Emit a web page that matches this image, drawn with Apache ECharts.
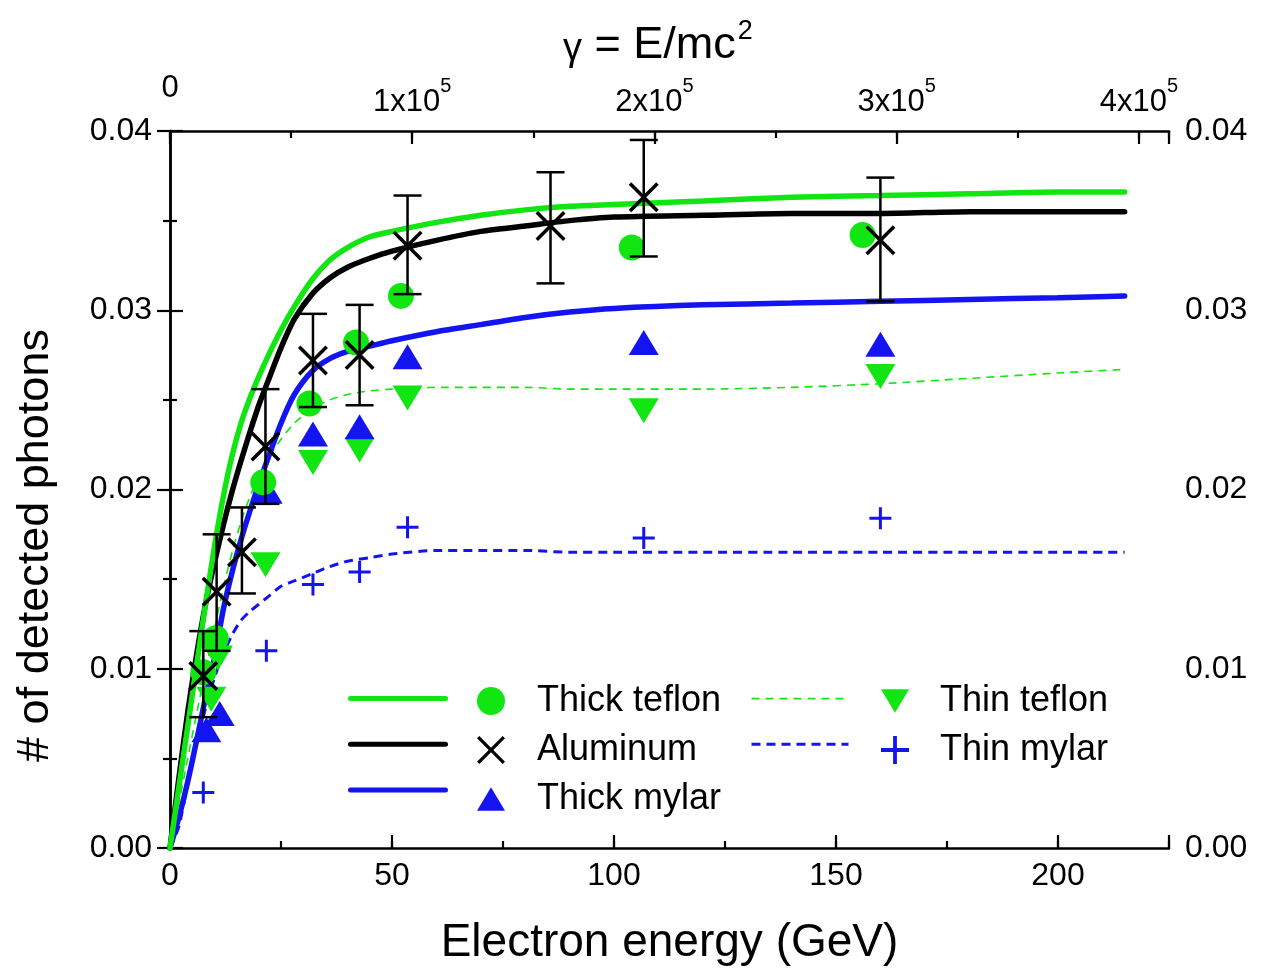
<!DOCTYPE html>
<html>
<head>
<meta charset="utf-8">
<script src="https://cdn.jsdelivr.net/npm/echarts@6/dist/echarts.min.js"></script>
<style>html,body{margin:0;padding:0;background:#fff}#chart{width:1262px;height:972px}</style>
</head>
<body>
<div id="chart"></div>
<script>
// ---------------- data ----------------
// Energies of the fitted curves (GeV)
const fitE = [0,2,4,6,8,10,12,14,16,18,20,22,25,28,32,36,40,45,50,60,70,80,90,100,120,140,160,180,200,215];
const fitThickTeflon = [0,0.0034,0.0068,0.0102,0.0136,0.0168,0.0196,0.0219,0.0237,0.0251,0.0263,0.0274,0.0289,0.0302,0.0317,0.0328,0.0335,0.0341,0.0344,0.0349,0.0353,0.0356,0.0358,0.0359,0.0361,0.0363,0.0364,0.0365,0.0366,0.0366];
const fitAluminum    = [0,0.0039,0.0076,0.0108,0.0136,0.0159,0.0180,0.0199,0.0216,0.0232,0.0247,0.0260,0.0279,0.0295,0.0309,0.0318,0.0324,0.0329,0.0333,0.0339,0.0344,0.0347,0.0350,0.0352,0.0353,0.0354,0.0354,0.0355,0.0355,0.0355];
const fitThickMylar  = [0,0.0017,0.0037,0.0060,0.0084,0.0106,0.0133,0.0154,0.0172,0.0188,0.0203,0.0217,0.0237,0.0253,0.0266,0.0273,0.0277,0.0280,0.0283,0.0288,0.0292,0.0296,0.0299,0.0301,0.0303,0.0304,0.0305,0.0306,0.0307,0.0308];
const fitThinTeflon  = [0,0.0025,0.0050,0.0075,0.0099,0.0122,0.0145,0.0165,0.0182,0.0196,0.0208,0.0217,0.0228,0.0237,0.0245,0.0250,0.0253,0.0255,0.0256,0.0257,0.0257,0.0257,0.0256,0.0256,0.0256,0.0257,0.0259,0.0262,0.0265,0.0267];
const fitThinMylar   = [0,0.0012,0.0036,0.0058,0.0078,0.0095,0.0108,0.0119,0.0127,0.0132,0.0136,0.0140,0.0146,0.0149,0.0153,0.0157,0.0160,0.0162,0.0164,0.0166,0.0166,0.0166,0.0165,0.0165,0.0165,0.0165,0.0165,0.0165,0.0165,0.0165];

// Measured points
const thickTeflonE = [7.5, 10.3, 21, 31.4, 41.9, 52, 104, 156];
const thickTeflonY = [0.0098, 0.0117, 0.0204, 0.0248, 0.0282, 0.0308, 0.0335, 0.0342];

const aluminumE  = [7.5, 10.5, 16.2, 21.5, 32.2, 42.7, 53.5, 85.7, 106.7, 160];
const aluminumY  = [0.0096, 0.0143, 0.0165, 0.0224, 0.0272, 0.0275, 0.0336, 0.0347, 0.0363, 0.0339];
const aluminumLo = [0.0073, 0.0110, 0.0142, 0.0192, 0.0246, 0.0247, 0.0309, 0.0315, 0.0330, 0.0305];
const aluminumHi = [0.0121, 0.0175, 0.0190, 0.0256, 0.0298, 0.0303, 0.0364, 0.0377, 0.0395, 0.0374];

const thickMylarE = [8.2, 11.2, 22, 32.2, 42.7, 53.5, 106.7, 160];
const thickMylarY = [0.0066, 0.0075, 0.0199, 0.0231, 0.0235, 0.0274, 0.0282, 0.0281];

const thinTeflonE = [9.3, 10.8, 21.5, 32.2, 42.7, 53.5, 106.7, 160];
const thinTeflonY = [0.0083, 0.0106, 0.0158, 0.0215, 0.0222, 0.0251, 0.0244, 0.0263];

const thinMylarE = [7.5, 21.7, 32.2, 42.7, 53.5, 106.7, 160];
const thinMylarY = [0.0031, 0.0110, 0.0147, 0.0154, 0.0179, 0.0173, 0.0184];

// Axes
const energyMax = 225;
const gammaMax = 412400;
const yMax = 0.04;
const yTickLabels = ['0.00', '0.01', '0.02', '0.03', '0.04'];

// ---------------- chart ----------------
const GREEN = '#12e612', BLUE = '#1414f0', BLACK = '#000000';
const FONT = 'Liberation Sans, Arial, sans-serif';
const zip = (a, b) => a.map((v, i) => [v, b[i]]);

const SYM_X = 'path://M0,2.5 L2.5,0 L15,12.5 L27.5,0 L30,2.5 L17.5,15 L30,27.5 L27.5,30 L15,17.5 L2.5,30 L0,27.5 L12.5,15 Z';
const SYM_PLUS = 'path://M9.5,0 H12.5 V9.5 H22 V12.5 H12.5 V22 H9.5 V12.5 H0 V9.5 H9.5 Z';
const SYM_UP = 'path://M15,0 L30,25 L0,25 Z';
const SYM_DOWN = 'path://M0,0 L30,0 L15,25 Z';

const axLine = { show: true, lineStyle: { color: BLACK, width: 2.5 } };
const tickMajor = { show: true, inside: true, length: 13, lineStyle: { color: BLACK, width: 2.2 } };
const tickMinor = { show: true, inside: true, length: 7, lineStyle: { color: BLACK, width: 2.2 } };

function yLabel(v) {
  const i = Math.round(v / 0.01);
  return yTickLabels[i] !== undefined ? yTickLabels[i] : '';
}

const chart = echarts.init(document.getElementById('chart'), null, { renderer: 'canvas' });
const option = {
  animation: false,
  backgroundColor: '#ffffff',
  textStyle: { fontFamily: FONT },
  title: {
    text: '{g|γ} = E/mc{s|2}',
    left: 558, top: 18,
    textStyle: {
      fontFamily: FONT, fontWeight: 'normal', color: BLACK, fontSize: 45,
      rich: {
        g: { fontFamily: FONT, fontSize: 38, color: BLACK, lineHeight: 46, verticalAlign: 'bottom' },
        s: { fontFamily: FONT, fontSize: 27, color: BLACK, lineHeight: 27, padding: [0, 0, 24, 2], verticalAlign: 'bottom' }
      }
    }
  },
  grid: { left: 170, right: 93, top: 131, bottom: 124, containLabel: false },
  xAxis: [
    {
      type: 'value', position: 'bottom', min: 0, max: energyMax, interval: 50,
      name: 'Electron energy (GeV)', nameLocation: 'middle', nameGap: 72,
      nameTextStyle: { fontFamily: FONT, fontSize: 46, color: BLACK },
      axisLine: axLine, axisTick: tickMajor, splitLine: { show: false },
      axisLabel: { fontFamily: FONT, fontSize: 32, color: BLACK, margin: 12,
        formatter: v => (v % 50 === 0 ? String(v) : '') }
    },
    {
      type: 'value', position: 'bottom', min: 0, max: energyMax, interval: 25,
      axisLine: { show: false }, axisTick: tickMinor, splitLine: { show: false },
      axisLabel: { show: false }
    },
    {
      type: 'value', position: 'top', min: 0, max: gammaMax, interval: 100000,
      axisLine: axLine, axisTick: tickMajor, splitLine: { show: false },
      axisLabel: {
        margin: 13, color: BLACK, fontFamily: FONT,
        formatter: v => {
          if (v === 0) return '{z|0}';
          if (v % 100000 === 0) return '{b|' + (v / 100000) + 'x10}{s|5}';
          return '';
        },
        rich: {
          z: { fontFamily: FONT, fontSize: 31, color: BLACK, lineHeight: 31, padding: [0, 0, 14, 0], verticalAlign: 'bottom' },
          b: { fontFamily: FONT, fontSize: 31, color: BLACK, lineHeight: 31, verticalAlign: 'bottom' },
          s: { fontFamily: FONT, fontSize: 20, color: BLACK, lineHeight: 20, padding: [0, 0, 22, 0], verticalAlign: 'bottom' }
        }
      }
    },
    {
      type: 'value', position: 'top', min: 0, max: gammaMax, interval: 50000,
      axisLine: { show: false }, axisTick: tickMinor, splitLine: { show: false },
      axisLabel: { show: false }
    }
  ],
  yAxis: [
    {
      type: 'value', position: 'left', min: 0, max: yMax, interval: 0.01,
      name: '# of detected photons', nameLocation: 'middle', nameGap: 112, nameRotate: 90,
      nameTextStyle: { fontFamily: FONT, fontSize: 45, color: BLACK, padding: [0, 112, 0, 0] },
      axisLine: axLine, axisTick: tickMajor,
      minorTick: { show: true, splitNumber: 2, length: 7, lineStyle: { color: BLACK, width: 2.2 } },
      splitLine: { show: false }, minorSplitLine: { show: false },
      axisLabel: { fontFamily: FONT, fontSize: 32, color: BLACK, margin: 18, formatter: yLabel }
    },
    {
      type: 'value', position: 'right', min: 0, max: yMax, interval: 0.01,
      axisLine: axLine, axisTick: tickMajor,
      minorTick: { show: true, splitNumber: 2, length: 7, lineStyle: { color: BLACK, width: 2.2 } },
      splitLine: { show: false }, minorSplitLine: { show: false },
      axisLabel: { fontFamily: FONT, fontSize: 32, color: BLACK, margin: 16, formatter: yLabel }
    }
  ],
  legend: [
    {
      data: [
        { name: 'Thick teflon fit', lineStyle: { width: 5 } },
        { name: 'Aluminum fit', lineStyle: { width: 5 } },
        { name: 'Thick mylar fit', lineStyle: { width: 5 } }
      ],
      orient: 'vertical', left: 348, top: 693, padding: 0, itemWidth: 95, itemHeight: 14, itemGap: 34.5,
      itemStyle: { opacity: 0 },
      formatter: () => '', textStyle: { fontSize: 8, lineHeight: 8 }, selectedMode: false
    },
    {
      data: ['Thick teflon', 'Aluminum', 'Thick mylar'],
      orient: 'vertical', left: 477, top: 683, padding: 0, itemWidth: 28, itemHeight: 28, itemGap: 13,
      textStyle: { fontFamily: FONT, fontSize: 36, color: BLACK, lineHeight: 28, padding: [0, 0, 0, 27] },
      selectedMode: false
    },
    {
      data: [
        { name: 'Thin teflon fit', lineStyle: { width: 1.6 } },
        { name: 'Thin mylar fit', lineStyle: { width: 3 } }
      ],
      orient: 'vertical', left: 750, top: 693, padding: 0, itemWidth: 97, itemHeight: 14, itemGap: 34.5,
      itemStyle: { opacity: 0 },
      formatter: () => '', textStyle: { fontSize: 8, lineHeight: 8 }, selectedMode: false
    },
    {
      data: ['Thin teflon', 'Thin mylar'],
      orient: 'vertical', left: 881, top: 683, padding: 0, itemWidth: 28, itemHeight: 28, itemGap: 13,
      textStyle: { fontFamily: FONT, fontSize: 36, color: BLACK, lineHeight: 28, padding: [0, 0, 0, 26] },
      selectedMode: false
    }
  ],
  series: [
    { name: 'Thin mylar fit', type: 'line', data: zip(fitE, fitThinMylar), symbol: 'none', smooth: 0.25,
      lineStyle: { color: BLUE, width: 3, type: [9, 6] }, itemStyle: { color: BLUE }, z: 2 },
    { name: 'Thin teflon fit', type: 'line', data: zip(fitE, fitThinTeflon), symbol: 'none', smooth: 0.25,
      lineStyle: { color: GREEN, width: 1.6, type: [8, 6] }, itemStyle: { color: GREEN }, z: 2 },
    { name: 'Thick mylar fit', type: 'line', data: zip(fitE, fitThickMylar), symbol: 'none', smooth: 0.25,
      lineStyle: { color: BLUE, width: 5.5, cap: 'round' }, itemStyle: { color: BLUE }, z: 3 },
    { name: 'Aluminum fit', type: 'line', data: zip(fitE, fitAluminum), symbol: 'none', smooth: 0.25,
      lineStyle: { color: BLACK, width: 5.5, cap: 'round' }, itemStyle: { color: BLACK }, z: 3 },
    { name: 'Thick teflon fit', type: 'line', data: zip(fitE, fitThickTeflon), symbol: 'none', smooth: 0.25,
      lineStyle: { color: GREEN, width: 5.5, cap: 'round' }, itemStyle: { color: GREEN }, z: 3 },

    { name: 'Thin mylar', type: 'scatter', data: zip(thinMylarE, thinMylarY), symbol: SYM_PLUS, symbolSize: 22,
      itemStyle: { color: BLUE, opacity: 1 }, z: 4 },
    { name: 'Thin teflon', type: 'scatter', data: zip(thinTeflonE, thinTeflonY), symbol: SYM_DOWN, symbolSize: [30, 25],
      itemStyle: { color: GREEN, opacity: 1 }, z: 4 },
    { name: 'Thick mylar', type: 'scatter', data: zip(thickMylarE, thickMylarY), symbol: SYM_UP, symbolSize: [30, 25],
      itemStyle: { color: BLUE, opacity: 1 }, z: 4 },
    { name: 'Thick teflon', type: 'scatter', data: zip(thickTeflonE, thickTeflonY), symbol: 'circle', symbolSize: 26,
      itemStyle: { color: GREEN, opacity: 1 }, z: 5 },
    {
      name: 'Aluminum errors', type: 'custom', z: 6,
      data: aluminumE.map((e, i) => [e, aluminumLo[i], aluminumHi[i]]),
      renderItem: (params, api) => {
        const lo = api.coord([api.value(0), api.value(1)]);
        const hi = api.coord([api.value(0), api.value(2)]);
        const hw = 14;
        const st = { stroke: BLACK, lineWidth: 2.5 };
        return { type: 'group', children: [
          { type: 'line', shape: { x1: lo[0], y1: lo[1], x2: hi[0], y2: hi[1] }, style: st },
          { type: 'line', shape: { x1: lo[0] - hw, y1: lo[1], x2: lo[0] + hw, y2: lo[1] }, style: st },
          { type: 'line', shape: { x1: hi[0] - hw, y1: hi[1], x2: hi[0] + hw, y2: hi[1] }, style: st }
        ] };
      }
    },
    { name: 'Aluminum', type: 'scatter', data: zip(aluminumE, aluminumY), symbol: SYM_X, symbolSize: 30,
      itemStyle: { color: BLACK, opacity: 1 }, z: 7 }
  ]
};
chart.setOption(option);
</script>
</body>
</html>
